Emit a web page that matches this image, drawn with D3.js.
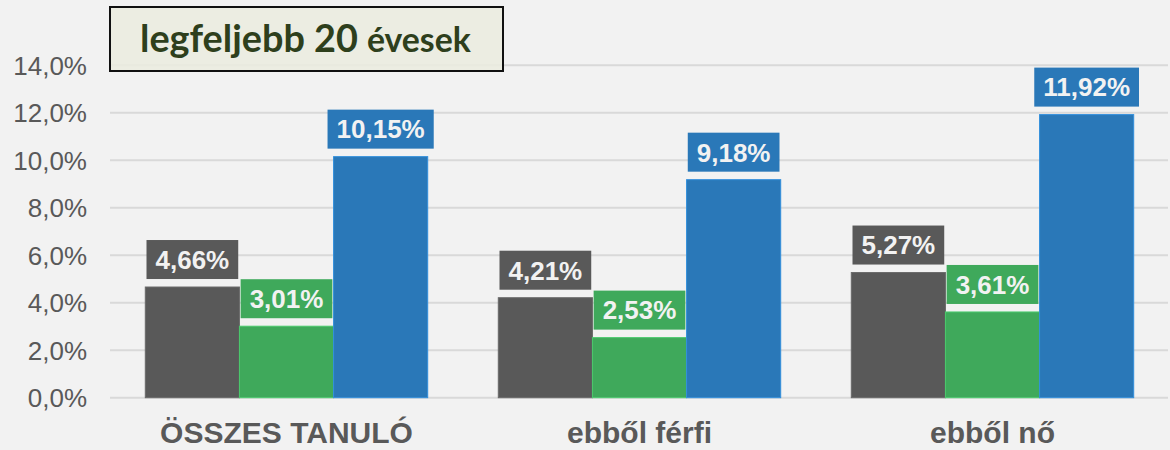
<!DOCTYPE html>
<html><head><meta charset="utf-8">
<script src="https://cdn.jsdelivr.net/npm/d3@7/dist/d3.min.js"></script>
<style>
html,body{margin:0;padding:0;background:#f2f2f2;}
svg{display:block;}
</style></head>
<body>
<svg id="chart" width="1170" height="450"></svg>
<script>
const categories = ["ÖSSZES TANULÓ", "ebből férfi", "ebből nő"];
const seriesNames = ["sorozat1", "sorozat2", "sorozat3"];
const seriesGray = [4.66, 4.21, 5.27];
const seriesGreen = [3.01, 2.53, 3.61];
const seriesBlue = [10.15, 9.18, 11.92];
const yTicks = [0, 2, 4, 6, 8, 10, 12, 14];
const titleMain = "legfeljebb 20";
const titleSub = "évesek";

const colors = {sorozat1: "#595959", sorozat2: "#3fa95b", sorozat3: "#2a78b8"};
const seriesValues = [seriesGray, seriesGreen, seriesBlue];

const svg = d3.select("#chart");
const y = d3.scaleLinear().domain([0, 14]).range([397.7, 65.2]);
const x0 = d3.scaleBand().domain(categories).range([110, 1169]).paddingInner(0.2).paddingOuter(0.1);
const x1 = d3.scaleBand().domain(seriesNames).range([0, x0.bandwidth()]).padding(0);
const fmt = v => v.toFixed(2).replace(".", ",") + "%";
const fmtTick = v => v.toFixed(1).replace(".", ",") + "%";

// gridlines
svg.append("g").selectAll("line").data(yTicks).join("line")
  .attr("x1", 110).attr("x2", 1168)
  .attr("y1", d => y(d)).attr("y2", d => y(d))
  .attr("stroke", "#d9d9d9").attr("stroke-width", 2);

// y tick labels
svg.append("g").selectAll("text").data(yTicks).join("text")
  .attr("x", 87).attr("y", d => y(d)).attr("dy", "0.36em")
  .attr("text-anchor", "end")
  .attr("font-family", "Liberation Sans, Arial, sans-serif")
  .attr("font-size", 26).attr("fill", "#595959")
  .text(fmtTick);

// data rows
const rows = [];
categories.forEach((c, i) => {
  seriesNames.forEach((s, j) => rows.push({cat: c, ser: s, val: seriesValues[j][i]}));
});

// bars
svg.append("g").selectAll("rect").data(rows).join("rect")
  .attr("x", d => x0(d.cat) + x1(d.ser))
  .attr("y", d => y(d.val))
  .attr("width", x1.bandwidth())
  .attr("height", d => y(0) - y(d.val))
  .attr("fill", d => colors[d.ser])
  .attr("stroke", d => d3.color(colors[d.ser]).brighter(0.5))
  .attr("stroke-width", 1);

// value labels
const lg = svg.append("g").selectAll("g").data(rows).join("g");
lg.each(function(d) {
  const g = d3.select(this);
  const cx = x0(d.cat) + x1(d.ser) + x1.bandwidth() / 2;
  const bottom = y(d.val) - 8;
  const t = g.append("text")
    .attr("x", cx).attr("y", bottom - 19.5).attr("dy", "0.36em")
    .attr("text-anchor", "middle")
    .attr("font-family", "Liberation Sans, Arial, sans-serif")
    .attr("font-weight", "bold").attr("font-size", 26)
    .attr("fill", "#f2f2f2").text(fmt(d.val));
  const w = t.node().getComputedTextLength() + 18;
  g.insert("rect", "text")
    .attr("x", cx - w / 2).attr("y", bottom - 39)
    .attr("width", w).attr("height", 39)
    .attr("fill", colors[d.ser]);
});

// category labels
svg.append("g").selectAll("text").data(categories).join("text")
  .attr("x", d => x0(d) + x0.bandwidth() / 2).attr("y", 443)
  .attr("text-anchor", "middle")
  .attr("font-family", "Liberation Sans, Arial, sans-serif")
  .attr("font-weight", "bold").attr("font-size", 30)
  .attr("fill", "#595959").text(d => d);

// title box
svg.append("rect").attr("x", 110).attr("y", 7).attr("width", 393).attr("height", 64)
  .attr("fill", "#ebecdf").attr("fill-opacity", 0.88)
  .attr("stroke", "#111").attr("stroke-width", 2);
const tt = svg.append("text").attr("x", 140).attr("y", 52)
  .attr("font-family", "Lato, 'Open Sans', sans-serif").attr("font-weight", "bold")
  .attr("fill", "#2e3f1c");
const ts1 = tt.append("tspan").attr("font-size", 33).text(titleMain);
const ts2 = tt.append("tspan").attr("font-size", 28).attr("dx", 9).text(titleSub);
// fit widths to reference
const w1 = ts1.node().getComputedTextLength();
ts1.attr("font-size", 33 * 218 / w1);
const w2 = ts2.node().getComputedTextLength();
ts2.attr("font-size", 28 * 104 / w2);
</script>
</body></html>
